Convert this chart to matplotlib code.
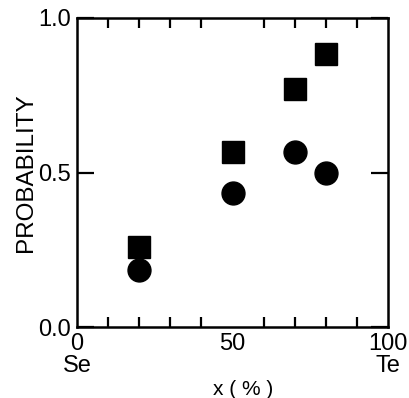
import matplotlib
matplotlib.use("Agg")
import matplotlib.pyplot as plt
from matplotlib.ticker import MultipleLocator

# composition x (% Te) and measured probabilities
x_te = [20, 50, 70, 80]
prob_square = [0.26, 0.565, 0.77, 0.885]
prob_circle = [0.185, 0.435, 0.565, 0.50]

x_ticks = [0, 50, 100]
x_ticklabels = ["0\nSe", "50", "100\nTe"]
y_ticks = [0.0, 0.5, 1.0]
y_ticklabels = ["0.0", "0.5", "1.0"]

plt.rcParams["font.family"] = ["Liberation Sans", "DejaVu Sans"]

fig = plt.figure(figsize=(4.09, 3.98), dpi=100)
ax = fig.add_axes([77 / 409, 1 - 327 / 398, 311 / 409, 309 / 398])

ax.plot(x_te, prob_square, "s", color="black", markersize=16.5, zorder=3)
ax.plot(x_te, prob_circle, "o", color="black", markersize=16.5, zorder=3)

ax.set_xlim(0, 100)
ax.set_ylim(0, 1.0)

ax.set_xticks(x_ticks)
ax.set_xticklabels(x_ticklabels, linespacing=1.0)
ax.xaxis.set_minor_locator(MultipleLocator(10))
ax.set_yticks(y_ticks)
ax.set_yticklabels(y_ticklabels)

for s in ax.spines.values():
    s.set_linewidth(1.8)

ax.tick_params(axis="x", which="both", direction="in", top=True, bottom=True,
               width=1.6, labelsize=17, pad=4.5)
ax.tick_params(axis="x", which="major", length=0)
ax.tick_params(axis="x", which="minor", length=7)
ax.tick_params(axis="y", which="major", direction="in", left=True, right=True,
               width=1.6, length=12, labelsize=17, pad=4.5)

ax.set_ylabel("PROBABILITY", fontsize=17.5, labelpad=1)
ax.set_xlabel("x ( % )", fontsize=15)
ax.xaxis.set_label_coords(0.535, -0.172)

fig.savefig("out.png", dpi=100)
